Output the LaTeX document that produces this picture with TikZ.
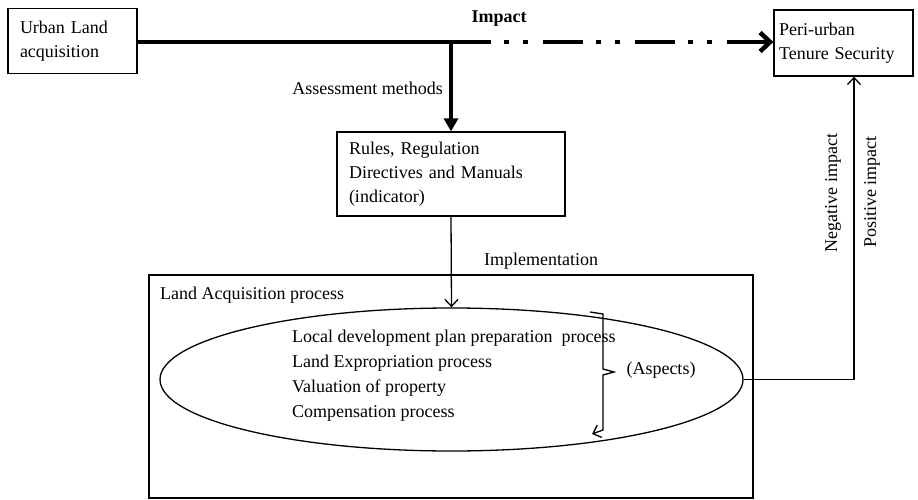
\documentclass[tikz,border=0pt]{standalone}
\usepackage{fontspec}
\setmainfont{Liberation Serif}
\usetikzlibrary{arrows.meta,shapes.geometric}
\tikzset{
  box/.style={draw,line width=1.3pt,align=left,inner ysep=0pt},
  lbl/.style={inner sep=0pt},
  thinline/.style={line width=1.3pt},
  thickline/.style={line width=4.5pt},
  opentip/.style={-{Straight Barb[length=7pt,width=13pt,line width=1.3pt]}},
}
\begin{document}
\begin{tikzpicture}[x=1pt,y=-1pt,font=\fontsize{18}{24}\selectfont]
\useasboundingbox (0,0) rectangle (918,500);

\node[box,text width=105pt,inner xsep=12pt,minimum height=65pt] (urban) at (72.5,41) {Urban Land\\acquisition};
\node[box,text width=129pt,inner xsep=5pt,minimum height=66pt] (peri) at (843.5,43) {Peri-urban\\Tenure Security};
\node[box,text width=204pt,inner xsep=12pt,minimum height=84pt] (rules) at (451,174) {Rules, Regulation\\Directives and Manuals\\(indicator)};
\node[draw,thinline,minimum width=604pt,minimum height=223pt] (landbox) at (451,386.5) {};
\node[draw,thinline,ellipse,minimum width=583pt,minimum height=143pt,inner sep=0pt] (ell) at (451.5,379.5) {};

\node[lbl,anchor=west] (landlbl) at (160,295) {Land Acquisition process};
\node[lbl,anchor=west,align=left,font=\fontsize{18}{25}\selectfont] (steps) at (292,375.5) {Local development plan preparation\ \ process\\Land Expropriation process\\Valuation of property\\Compensation process};
\node[lbl] (aspects) at (661,370) {(Aspects)};

\node[lbl,font=\fontsize{18}{24}\selectfont\bfseries] (impact) at (499,19) {Impact};
\node[lbl,anchor=east] (assess) at (443,88) {Assessment methods};
\node[lbl] (impl) at (541,261) {Implementation};
\node[lbl,rotate=90] (neg) at (833,193) {Negative impact};
\node[lbl,rotate=90] (pos) at (872,192) {Positive impact};

\coordinate (branch) at (451,42);
\coordinate (split) at (490,42);
\coordinate (turn) at (854,379.5);

\draw[thickline] (urban.east |- split) -- (split);
\draw[thickline,dash pattern=on 40pt off 13pt on 5pt off 14pt on 5pt off 15pt,dash phase=39pt,-{Straight Barb[length=10pt,width=19pt]}] (split) -- (split -| peri.west);
\draw[line width=4pt,-{Triangle[length=13pt,width=14pt]}] (branch) -- (rules.north);
\draw[thinline,opentip] (rules.south) -- (ell.north);
\draw[thinline,opentip] (ell.east) -- (turn) -- (turn |- peri.south);

\draw[thinline,opentip] (590,312) -- (603,314) -- (603,369) -- (614,372) -- (603,375) -- (603,430) -- (592,434);
\end{tikzpicture}
\end{document}
